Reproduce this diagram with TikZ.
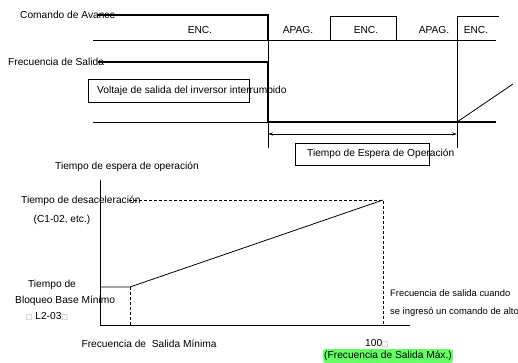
\documentclass[tikz,border=0pt]{standalone}
\usepackage{fontspec}
\setmainfont{Liberation Sans}
\newfontfamily\symfont{DejaVu Sans}
\usetikzlibrary{arrows.meta}
\definecolor{hlgreen}{HTML}{66FF66}
\begin{document}
\begin{tikzpicture}[x=1pt,y=-1pt,
  lbl/.style={inner sep=0pt,font=\fontsize{10.2}{12}\selectfont},
  sml/.style={inner sep=0pt,font=\fontsize{9.4}{11}\selectfont},
  thinln/.style={line width=0.8pt},
  thickln/.style={line width=1.8pt},
  dashln/.style={line width=0.8pt,dash pattern=on 3pt off 2pt},
  boxst/.style={draw,line width=0.8pt,inner sep=0pt}]
\useasboundingbox (0,0) rectangle (518,363);
% ---------- top timing chart ----------
\coordinate (c0) at (97,15);
\coordinate (c1) at (268,15);
\coordinate (c2) at (268,40);
\coordinate (b0) at (93,40);
\coordinate (b1) at (496,40);
\draw[thickln] (c0) -- (c1) -- (c2);
\draw[thinln] (b0) -- (b1);
\draw[thinln] (330,40) -- (330,16) -- (396,16) -- (396,40);
\draw[thinln] (457,148) -- (457,16) -- (499,16);
\draw[thinln] (268,40) -- (268,148);
\node[lbl,anchor=west] (cmd) at (20,15) {Comando de Avance};
\node[lbl] (e1) at (200,30) {ENC.};
\node[lbl] (a1) at (298,30) {APAG.};
\node[lbl] (e2) at (366,30) {ENC.};
\node[lbl] (a2) at (434,30) {APAG.};
\node[lbl] (e3) at (476,30) {ENC.};
% frequency
\coordinate (f0) at (98,62);
\coordinate (f1) at (268,62);
\coordinate (f2) at (268,122);
\coordinate (f3) at (457,122);
\coordinate (f4) at (496,122);
\coordinate (fz) at (93,122);
\coordinate (ramp) at (513,84);
\draw[thinln] (fz) -- (f2);
\draw[thickln] (f0) -- (f1) -- (f2) -- (f4);
\draw[thinln] (f3) -- (ramp);
\node[lbl,anchor=west] (fs) at (8,62) {Frecuencia de Salida};
\node[boxst,minimum width=161pt,minimum height=23pt,anchor=north west] (vbox) at (88,79) {};
\node[lbl,anchor=west] (vtxt) at (97,90.5) {Voltaje de salida del inversor interrumpido};
% dimension arrow
\coordinate (d0) at (268,134);
\coordinate (d1) at (457,134);
\draw[thinln,{Stealth[length=5pt,width=3pt]}-{Stealth[length=5pt,width=3pt]}] (d0) -- (d1);
\node[boxst,minimum width=134pt,minimum height=22pt,anchor=north west] (ebox) at (295,143) {};
\node[lbl,anchor=west] (etxt) at (307,154) {Tiempo de Espera de Operación};
% ---------- bottom chart ----------
\node[lbl,anchor=west] (ttl) at (55,167) {Tiempo de espera de operación};
\coordinate (o) at (100,325);
\coordinate (ytop) at (100,180);
\coordinate (xend) at (410,325);
\draw[thinln] (ytop) -- (o) -- (xend);
\coordinate (m0) at (100,287);
\coordinate (m1) at (130,287);
\coordinate (m2) at (383,200);
\coordinate (m3) at (130,325);
\coordinate (m4) at (383,325);
\coordinate (dl) at (129,200);
\draw[thinln] (m0) -- (m1) -- (m2);
\draw[dashln] (dl) -- (m2) -- (m4);
\draw[dashln] (m1) -- (m3);
\node[lbl,anchor=west] (dec1) at (21,201) {Tiempo de desaceleración};
\node[lbl] (dec2) at (62,220) {(C1-02, etc.)};
\node[lbl] (bb1) at (52,285) {Tiempo de};
\node[lbl,anchor=west] (bb2) at (15,301) {Bloqueo Base Mínimo};
\node[lbl] (bb3) at (47,316) {{\symfont\textcolor{black!40}{\fontsize{7}{8}\selectfont□}} L2-03{\symfont\textcolor{black!40}{\fontsize{7}{8}\selectfont□}}};
\node[lbl] (fmin) at (149,344) {Frecuencia de\ \ Salida Mínima};
\node[sml,anchor=west] (fc1) at (390,293) {Frecuencia de salida cuando};
\node[sml,anchor=west] (fc2) at (390,312) {se ingresó un comando de alto};
\node[lbl] (h100) at (377,343) {100{\symfont\textcolor{black!40}{\fontsize{7}{8}\selectfont□}}};
\node[lbl,fill=hlgreen,rounded corners=2pt,inner xsep=1pt,inner ysep=2pt] (fmax) at (388,356) {(Frecuencia de Salida Máx.)};
\end{tikzpicture}
\end{document}
